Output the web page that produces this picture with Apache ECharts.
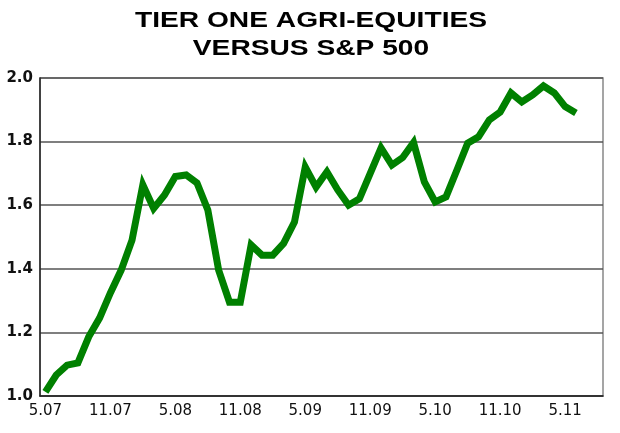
<!DOCTYPE html>
<html><head><meta charset="utf-8">
<script src="https://cdn.jsdelivr.net/npm/echarts@6/dist/echarts.min.js"></script>
<style>html,body{margin:0;padding:0;background:#fff}#c{width:620px;height:433px}</style>
</head><body><div id="c"></div>
<script>
var titleLines = ["TIER ONE AGRI-EQUITIES", "VERSUS S&P 500"];
var months = ["5.07","6.07","7.07","8.07","9.07","10.07","11.07","12.07","1.08","2.08","3.08","4.08",
  "5.08","6.08","7.08","8.08","9.08","10.08","11.08","12.08","1.09","2.09","3.09","4.09",
  "5.09","6.09","7.09","8.09","9.09","10.09","11.09","12.09","1.10","2.10","3.10","4.10",
  "5.10","6.10","7.10","8.10","9.10","10.10","11.10","12.10","1.11","2.11","3.11","4.11",
  "5.11","6.11","7.11","8.11"];
var ratio = [1.013,1.066,1.097,1.104,1.186,1.245,1.324,1.396,1.49,1.664,1.59,1.632,
  1.69,1.695,1.67,1.585,1.396,1.295,1.295,1.475,1.443,1.443,1.48,1.547,
  1.72,1.657,1.705,1.648,1.60,1.62,1.70,1.78,1.726,1.75,1.797,1.673,
  1.61,1.626,1.71,1.795,1.815,1.868,1.893,1.953,1.925,1.947,1.975,1.953,
  1.91,1.89];
var yTicks = [1.0,1.2,1.4,1.6,1.8,2.0];

var chart = echarts.init(document.getElementById('c'), null, {renderer:'canvas'});
chart.setOption({
  animation:false,
  backgroundColor:'#fff',
  graphic: titleLines.map(function(t, i){
    return {type:'text', x:311, y:10 + i*27.5, scaleX:1.28,
      style:{text:t, fill:'#000', textAlign:'center', textVerticalAlign:'top',
        font:'bold 22px "Liberation Sans", Arial, sans-serif'}};
  }),
  grid:{left:40, right:17, top:78, bottom:37, show:true, borderColor:'#888', borderWidth:1.5, backgroundColor:'transparent'},
  xAxis:{
    type:'category', data: months, boundaryGap:true,
    axisLine:{show:true, lineStyle:{color:'#222', width:1.5}},
    axisTick:{show:false},
    axisLabel:{interval:5, margin:8, color:'#111', fontFamily:'DejaVu Sans', fontSize:15},
    splitLine:{show:false}
  },
  yAxis:{
    type:'value', min:1.0, max:2.0, interval:0.2,
    axisLine:{show:true, lineStyle:{color:'#222', width:1.5}},
    axisTick:{show:false},
    axisLabel:{margin:7, color:'#111', fontFamily:'DejaVu Sans', fontWeight:'bold', fontSize:15,
      formatter:function(v){ var t = yTicks.find(function(x){return Math.abs(x-v)<1e-6;}); return (t!==undefined?t:v).toFixed(1);} },
    splitLine:{show:true, lineStyle:{color:'#555', width:1.5}}
  },
  series:[{
    type:'line', data: ratio, showSymbol:false, symbol:'none',
    lineStyle:{color:'#008000', width:7, join:'miter'},
    itemStyle:{color:'#008000'}
  }]
});
</script></body></html>
